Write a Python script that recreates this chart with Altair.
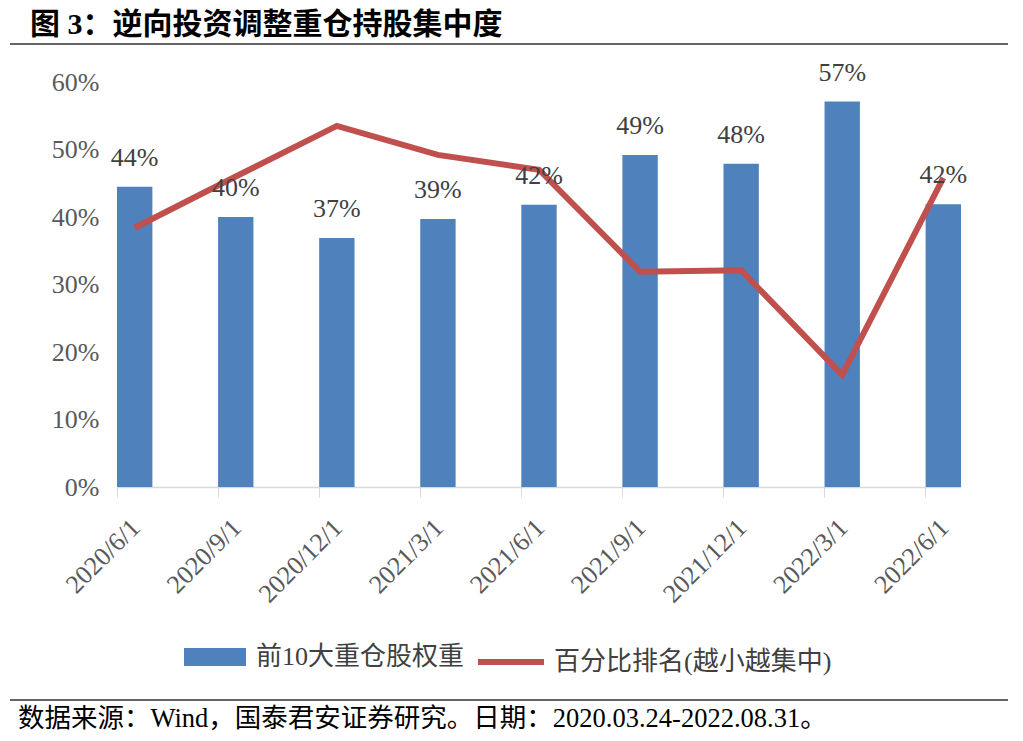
import altair as alt
import pandas as pd

# ---- data ----
dates = ["2020/6/1", "2020/9/1", "2020/12/1", "2021/3/1", "2021/6/1",
         "2021/9/1", "2021/12/1", "2022/3/1", "2022/6/1"]
top10_weight = [0.445, 0.400, 0.369, 0.397, 0.418, 0.492, 0.479, 0.571, 0.419]
bar_labels = ["44%", "40%", "37%", "39%", "42%", "49%", "48%", "57%", "42%"]
pct_rank = [0.384, 0.460, 0.535, 0.492, 0.470, 0.319, 0.321, 0.166, 0.458]

bar_name = "前10大重仓股权重"
line_name = "百分比排名(越小越集中)"
title_text = "图 3：逆向投资调整重仓持股集中度"
footer_text = "数据来源：Wind，国泰君安证券研究。日期：2020.03.24-2022.08.31。"

bars_df = pd.DataFrame({"date": dates, "value": top10_weight,
                        "label": bar_labels, "series": bar_name})
line_df = pd.DataFrame({"date": dates, "value": pct_rank, "series": line_name})

SERIF = "Liberation Serif, Noto Sans CJK SC"
W, H = 844, 405

x_enc = alt.X("date:N", sort=dates, title=None,
              scale=alt.Scale(paddingInner=0.65, paddingOuter=0),
              axis=alt.Axis(labelAngle=-45, labelFont=SERIF, labelFontSize=26,
                            labelColor="#595959", tickColor="#D9D9D9", tickSize=10,
                            domainColor="#D9D9D9", domainWidth=1.5, bandPosition=0,
                            labelOffset=-8, labelPadding=17))
y_enc = alt.Y("value:Q", title=None,
              scale=alt.Scale(domain=[0, 0.6], nice=False),
              axis=alt.Axis(values=[0, 0.1, 0.2, 0.3, 0.4, 0.5, 0.6], format=".0%",
                            domain=False, ticks=False, grid=False,
                            labelFont=SERIF, labelFontSize=26, labelColor="#595959",
                            labelPadding=18))

bars = alt.Chart(bars_df).mark_bar().encode(
    x=x_enc, y=y_enc,
    fill=alt.Fill("series:N", scale=alt.Scale(domain=[bar_name], range=["#4F81BD"]),
                  legend=alt.Legend(title=None, orient="none", legendX=67, legendY=544,
                                    symbolType="M-1,-0.29H1V0.29H-1Z", symbolSize=3844,
                                    symbolStrokeWidth=0, labelFont=SERIF,
                                    labelFontSize=26, labelColor="#404040",
                                    labelOffset=10, labelLimit=0, padding=0)),
)

bar_text = alt.Chart(bars_df).mark_text(
    font=SERIF, fontSize=26, color="#404040", baseline="alphabetic", dy=-21
).encode(x=alt.X("date:N", sort=dates), y="value:Q", text="label:N")

line = alt.Chart(line_df).mark_line(strokeWidth=6, strokeJoin="miter").encode(
    x=alt.X("date:N", sort=dates), y="value:Q",
    stroke=alt.Stroke("series:N", scale=alt.Scale(domain=[line_name], range=["#C0504D"]),
                      legend=alt.Legend(title=None, orient="none", legendX=358, legendY=544,
                                        symbolType="stroke", symbolSize=4356,
                                        symbolStrokeWidth=6, labelFont=SERIF,
                                        labelFontSize=26, labelColor="#404040",
                                        labelOffset=7, labelLimit=0, padding=0)),
)

title_df = pd.DataFrame({"t": [title_text]})
footer_df = pd.DataFrame({"t": [footer_text]})

title = alt.Chart(title_df).mark_text(
    font=SERIF, fontSize=30, fontWeight="bold", color="#000000",
    align="left", baseline="middle", limit=0
).encode(x=alt.value(-87), y=alt.value(-57), text="t:N")

footer = alt.Chart(footer_df).mark_text(
    font=SERIF, fontSize=26.5, color="#000000", align="left", baseline="middle", limit=0
).encode(x=alt.value(-99), y=alt.value(637), text="t:N")

top_rule = alt.Chart(title_df).mark_rule(color="#333333", strokeWidth=1.5).encode(
    x=alt.value(-107), x2=alt.value(891), y=alt.value(-38))
bottom_rule = alt.Chart(footer_df).mark_rule(color="#333333", strokeWidth=1.5).encode(
    x=alt.value(-107), x2=alt.value(891), y=alt.value(618))

chart = alt.layer(bars, line, bar_text, title, footer, top_rule, bottom_rule).resolve_scale(
    x="shared", y="shared"
).properties(
    width=W, height=H,
    autosize=alt.AutoSizeParams(type="none"),
    padding={"left": 109, "top": 74, "right": 54, "bottom": 246},
).configure_view(strokeWidth=0)

chart.save("out.html", embed_options={"renderer": "svg", "actions": False})
